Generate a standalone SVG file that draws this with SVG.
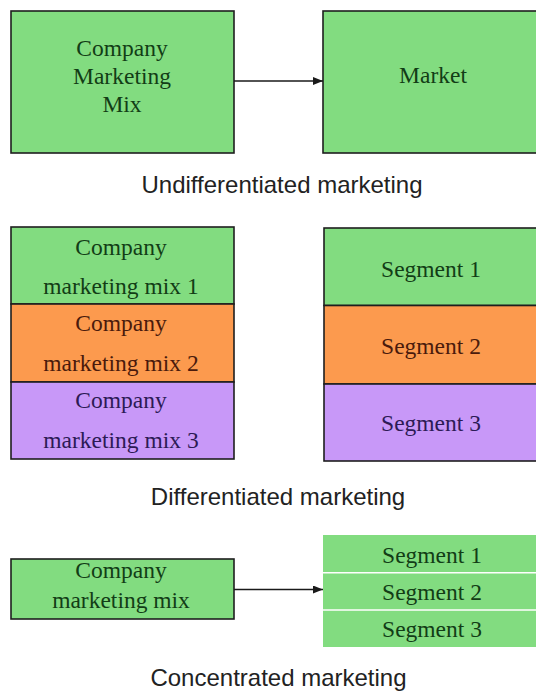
<svg xmlns="http://www.w3.org/2000/svg" width="536" height="691" viewBox="0 0 536 691">
<style>
  .box { stroke: #1e1e1e; stroke-width: 1.6; }
  .g { fill: #82dc80; }
  .o { fill: #fc9a4e; }
  .p { fill: #c898f8; }
  .t { font-family: "Liberation Serif", "Times New Roman", serif; font-size: 23.5px; text-anchor: middle; }
  .tg { fill: #123d16; }
  .to { fill: #4a1a0c; }
  .tp { fill: #2c1a55; }
  .cap { font-family: "Liberation Sans", Arial, sans-serif; font-size: 24px; text-anchor: middle; fill: #222222; }
  .conn { stroke: #1a1a1a; stroke-width: 1.5; fill: none; marker-end: url(#arr); }
  .sep { stroke: #ffffff; stroke-width: 1.5; }
</style>
<defs>
  <marker id="arr" markerWidth="10" markerHeight="8" refX="10" refY="4" orient="auto" markerUnits="userSpaceOnUse">
    <path d="M0,0 L10,4 L0,8 Z" fill="#1a1a1a"/>
  </marker>
</defs>
<rect width="536" height="691" fill="#ffffff"/>

<!-- Undifferentiated -->
<g id="company-marketing-mix">
  <rect class="box g" x="11" y="11" width="223" height="142"/>
  <text class="t tg" x="122" y="56">Company</text>
  <text class="t tg" x="122" y="84">Marketing</text>
  <text class="t tg" x="122" y="112">Mix</text>
</g>
<g id="market">
  <rect class="box g" x="323" y="11" width="220" height="142"/>
  <text class="t tg" x="433" y="83">Market</text>
</g>
<text class="cap" x="282" y="193">Undifferentiated marketing</text>

<!-- Differentiated -->
<g id="mix-1">
  <rect class="box g" x="11" y="227" width="223" height="77"/>
  <text class="t tg" x="121" y="255">Company</text>
  <text class="t tg" x="121" y="294">marketing mix 1</text>
</g>
<g id="mix-2">
  <rect class="box o" x="11" y="304" width="223" height="78"/>
  <text class="t to" x="121" y="331">Company</text>
  <text class="t to" x="121" y="371">marketing mix 2</text>
</g>
<g id="mix-3">
  <rect class="box p" x="11" y="382" width="223" height="77"/>
  <text class="t tp" x="121" y="408">Company</text>
  <text class="t tp" x="121" y="448">marketing mix 3</text>
</g>
<g id="segment-1">
  <rect class="box g" x="324" y="228" width="219" height="77.5"/>
  <text class="t tg" x="431" y="277">Segment 1</text>
</g>
<g id="segment-2">
  <rect class="box o" x="324" y="305.5" width="219" height="78.5"/>
  <text class="t to" x="431" y="354">Segment 2</text>
</g>
<g id="segment-3">
  <rect class="box p" x="324" y="384" width="219" height="77"/>
  <text class="t tp" x="431" y="431">Segment 3</text>
</g>
<text class="cap" x="278" y="505">Differentiated marketing</text>

<!-- Concentrated -->
<g id="company-mix-single">
  <rect class="box g" x="11" y="559" width="223" height="60"/>
  <text class="t tg" x="121" y="578">Company</text>
  <text class="t tg" x="121" y="608">marketing mix</text>
</g>
<g id="segments-concentrated">
  <rect class="g" x="323" y="535" width="213" height="112"/>
  <line class="sep" x1="323" y1="572.7" x2="536" y2="572.7"/>
  <line class="sep" x1="323" y1="610" x2="536" y2="610"/>
  <text class="t tg" x="432" y="562.5">Segment 1</text>
  <text class="t tg" x="432" y="599.5">Segment 2</text>
  <text class="t tg" x="432" y="637">Segment 3</text>
</g>
<text class="cap" x="278.5" y="686">Concentrated marketing</text>

<g id="connectors">
  <line class="conn" x1="234" y1="81" x2="323" y2="81"/>
  <line class="conn" x1="234" y1="589.5" x2="323" y2="589.5"/>
</g>
</svg>
